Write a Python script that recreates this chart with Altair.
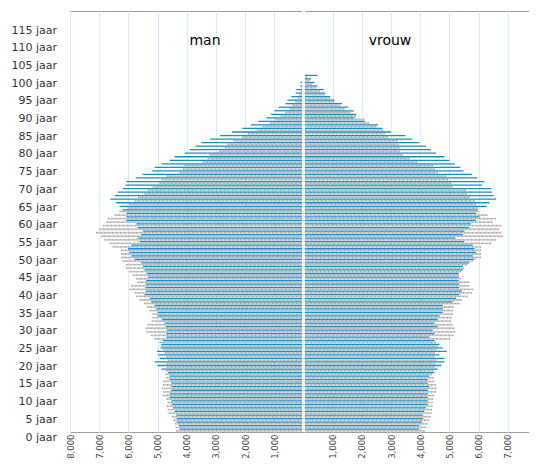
import altair as alt
import pandas as pd

# ages 0..100
ages = list(range(0, 101))

man_now = [4250, 4270, 4340, 4340, 4360, 4420, 4470, 4510, 4530, 4590,
           4590, 4530, 4530, 4530, 4590, 4590, 4640, 4870, 5000, 5100,
           4930, 4980, 5020, 4900, 4870, 4820, 4700, 4700, 4680, 4720,
           4760, 4850, 5000, 5000, 5050, 5100, 5220, 5270, 5450, 5400,
           5410, 5410, 5390, 5330, 5370, 5450, 5500, 5560, 5790, 5900,
           5960, 6010, 5900, 5620, 5680, 5560, 5500, 5680, 5730, 6075,
           6075, 6075, 6210, 6300, 6420, 6620, 6470, 6360, 6190, 6100,
           6070, 5750, 5510, 5180, 5100, 4870, 4590, 4420, 4075, 3900,
           3700, 3500, 3200, 2850, 2450, 2100, 1800, 1550, 1280, 1110,
           990, 850, 620, 550, 420, 270, 250, 110, 110, 45,
           55]

man_prev = [4360, 4380, 4400, 4450, 4500, 4620, 4650, 4680, 4650, 4700,
            4820, 4800, 4850, 4820, 4800, 4700, 4720, 4700, 4680, 4700,
            4650, 4700, 4750, 4800, 4860, 4930, 5100, 5220, 5380, 5390,
            5340, 5200, 5170, 5170, 5270, 5370, 5450, 5620, 5730, 5790,
            5960, 5900, 5680, 5730, 5850, 5960, 6075, 6075, 6200, 6250,
            6250, 6250, 6540, 6640, 6820, 6930, 7100, 6990, 6880, 6760,
            6710, 6470, 6300, 6030, 5960, 5790, 5670, 5450, 5330, 5160,
            4930, 4870, 4700, 4250, 4130, 4075, 3450, 3280, 3220, 2880,
            2700, 2600, 2400, 2100, 1900, 1600, 1400, 1150, 950, 780,
            620, 480, 380, 280, 200, 140, 90, 60, 35, 20,
            10]

vrouw_now = [3970, 3970, 4060, 4090, 4090, 4140, 4200, 4260, 4260, 4260,
             4260, 4260, 4315, 4260, 4260, 4315, 4490, 4600, 4720, 4830,
             4830, 4660, 4910, 4770, 4660, 4490, 4315, 4490, 4430, 4600,
             4490, 4600, 4660, 4770, 4790, 4770, 5110, 5230, 5340, 5430,
             5340, 5340, 5320, 5320, 5320, 5460, 5460, 5680, 5860, 5800,
             5910, 5860, 5800, 5510, 5200, 5460, 5510, 5680, 5740, 5910,
             6030, 5910, 5970, 6280, 6370, 6600, 6510, 6460, 6430, 6120,
             6200, 5950, 5780, 5480, 5380, 5190, 5000, 4830, 4540, 4370,
             4200, 3970, 3720, 3490, 3000, 2700, 2550, 2110, 1750, 1800,
             1720, 1530, 1320, 1060, 910, 750, 700, 480, 380, 260,
             470]

vrouw_prev = [4150, 4200, 4250, 4300, 4350, 4380, 4400, 4420, 4430, 4430,
              4480, 4540, 4560, 4540, 4480, 4450, 4400, 4450, 4480, 4500,
              4550, 4480, 4500, 4550, 4600, 4540, 5000, 5140, 5200, 5170,
              5100, 5050, 5080, 5110, 5110, 5140, 5340, 5430, 5630, 5770,
              5820, 5680, 5680, 5380, 5320, 5400, 5500, 5600, 5800, 6080,
              6080, 6080, 6080, 6430, 6600, 6830, 6770, 6700, 6770, 6480,
              6600, 6300, 6000, 5970, 5910, 5860, 5680, 5600, 5570, 5100,
              5060, 4950, 4890, 4600, 4500, 4430, 3910, 3630, 3400, 3290,
              3290, 3260, 3230, 2890, 2800, 2710, 2490, 2250, 2090, 1800,
              1600, 1400, 1230, 1050, 900, 720, 560, 420, 300, 200,
              130]

x_ticks = list(range(-8000, 8001, 1000))
y_ticks = list(range(0, 116, 5))
titles = ["man", "vrouw"]

rows = []
for i, a in enumerate(ages):
    rows.append({"age": a, "series": "now", "value": -man_now[i]})
    rows.append({"age": a, "series": "prev", "value": -man_prev[i]})
    rows.append({"age": a, "series": "now", "value": vrouw_now[i]})
    rows.append({"age": a, "series": "prev", "value": vrouw_prev[i]})
df = pd.DataFrame(rows)

FONT = "DejaVu Sans"
x_scale = alt.Scale(domain=[-8000, 8000], nice=False, zero=False)
y_scale = alt.Scale(domain=[0, 119], nice=False, zero=False)

x_axis = alt.Axis(values=x_ticks,
                  labelExpr="datum.value == 0 ? '' : format(abs(datum.value), ',')",
                  labelAngle=270, grid=True, gridColor="#d2eff9", gridWidth=1,
                  ticks=False, domain=False, labelFont=FONT, labelFontSize=8.5,
                  labelColor="#444444", labelPadding=2, title=None)
y_axis = alt.Axis(values=y_ticks, labelExpr="datum.value + ' jaar'",
                  grid=False, ticks=False, domain=False, labelFont=FONT,
                  labelFontSize=11, labelColor="#333333", labelPadding=13.5,
                  labelOffset=5, title=None)

base = alt.Chart(df).transform_calculate(zero="0")

gray = base.transform_filter(alt.datum.series == "prev").transform_calculate(
    ylo="datum.age + 0.06", yhi="datum.age + 0.58"
).mark_rect(color="#cbcbcb").encode(
    x=alt.X("value:Q", scale=x_scale, axis=x_axis),
    x2="zero:Q",
    y=alt.Y("ylo:Q", scale=y_scale, axis=y_axis),
    y2="yhi:Q",
)

dots = base.transform_filter(alt.datum.series == "prev").transform_calculate(
    ym="datum.age + 0.32"
).mark_rule(color="#888888", strokeWidth=1, strokeDash=[1, 3], opacity=0.85).encode(
    x=alt.X("value:Q", scale=x_scale, axis=x_axis),
    x2="zero:Q",
    y=alt.Y("ym:Q", scale=y_scale, axis=y_axis),
)

blue = base.transform_filter(alt.datum.series == "now").transform_calculate(
    ylo="datum.age + 0.62", yhi="datum.age + 0.98"
).mark_rect(color="#1a8fc3").encode(
    x=alt.X("value:Q", scale=x_scale, axis=x_axis),
    x2="zero:Q",
    y=alt.Y("ylo:Q", scale=y_scale, axis=y_axis),
    y2="yhi:Q",
)

center = base.transform_filter(alt.datum.age == 0).mark_rule(
    color="white", strokeWidth=2
).encode(x=alt.X("zero:Q", scale=x_scale, axis=x_axis))

man_text = alt.Chart(pd.DataFrame({"t": [titles[0]]})).mark_text(
    font=FONT, fontSize=14, color="#000000"
).encode(text="t:N", x=alt.value(135), y=alt.value(30))

vrouw_text = alt.Chart(pd.DataFrame({"t": [titles[1]]})).mark_text(
    font=FONT, fontSize=14, color="#000000"
).encode(text="t:N", x=alt.value(320), y=alt.value(30))

chart = alt.layer(gray, dots, blue, center, man_text, vrouw_text).properties(
    width=467, height=421,
    autosize=alt.AutoSizeParams(type="none"),
    padding={"left": 62, "top": 3, "right": -8, "bottom": 26},
).configure_view(stroke="#a0a0a0", strokeWidth=1)

chart.save("out.html", embed_options={"renderer": "svg", "actions": False})
